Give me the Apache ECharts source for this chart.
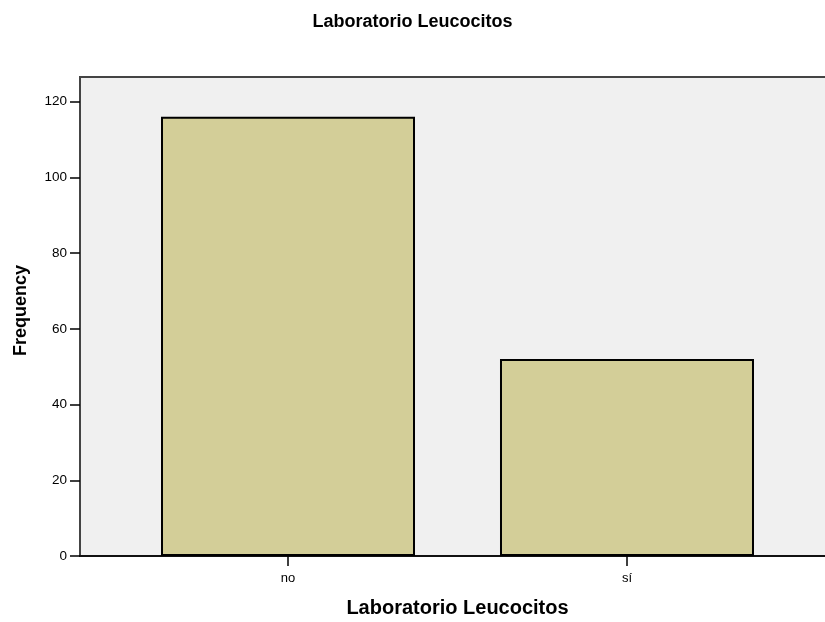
<!DOCTYPE html>
<html>
<head>
<meta charset="utf-8">
<script src="https://cdn.jsdelivr.net/npm/echarts@6/dist/echarts.min.js"></script>
<style>
  html, body { margin: 0; padding: 0; background: #fff; }
  #chart { width: 825px; height: 622px; }
</style>
</head>
<body>
<div id="chart"></div>
<script>
var categories = ['no', 'sí'];
var counts = [116, 52];
var yTicks = [0, 20, 40, 60, 80, 100, 120];

var chart = echarts.init(document.getElementById('chart'), null, { renderer: 'canvas' });

var barData = counts.map(function (v, i) { return [i, v]; });

var option = {
  animation: false,
  textStyle: { fontFamily: 'Liberation Sans, Arial, sans-serif' },
  title: {
    text: 'Laboratorio Leucocitos',
    left: 'center',
    top: 8,
    textStyle: { fontSize: 18, fontWeight: 'bold', color: '#000' }
  },
  grid: {
    left: 80,
    right: -2,
    top: 77,
    bottom: 66,
    outerBoundsMode: 'none',
    containLabel: false,
    show: true,
    backgroundColor: '#f0f0f0',
    borderColor: '#444',
    borderWidth: 2
  },
  xAxis: {
    type: 'value',
    min: -0.6136,
    max: 1.59,
    splitLine: { show: false },
    axisLine: { show: true, onZero: false, lineStyle: { color: '#000', width: 1.5 } },
    axisTick: { show: true, customValues: [0, 1], length: 10, lineStyle: { color: '#000', width: 1.5 } },
    axisLabel: {
      customValues: [0, 1],
      margin: 16,
      color: '#000',
      fontSize: 13,
      formatter: function (v) { return categories[Math.round(v)]; }
    },
    name: 'Laboratorio Leucocitos',
    nameLocation: 'middle',
    nameGap: 42,
    nameTextStyle: { fontSize: 20, fontWeight: 'bold', color: '#000', padding: [0, 0, 0, 8] }
  },
  yAxis: {
    type: 'value',
    min: 0,
    max: 126.5,
    splitLine: { show: false },
    axisLine: { show: true, onZero: false, lineStyle: { color: '#444', width: 2 } },
    axisTick: { show: true, customValues: yTicks, length: 10, lineStyle: { color: '#000', width: 1.5 } },
    axisLabel: {
      customValues: yTicks,
      color: '#000',
      fontSize: 13.5,
      margin: 13
    },
    name: 'Frequency',
    nameLocation: 'middle',
    nameGap: 50,
    nameTextStyle: { fontSize: 18, fontWeight: 'bold', color: '#000', padding: [0, 0, 0, 12] }
  },
  series: [{
    type: 'bar',
    data: barData,
    barWidth: 254,
    itemStyle: {
      color: '#d3ce98',
      borderColor: '#000',
      borderWidth: 2
    }
  }]
};

chart.setOption(option);
</script>
</body>
</html>
